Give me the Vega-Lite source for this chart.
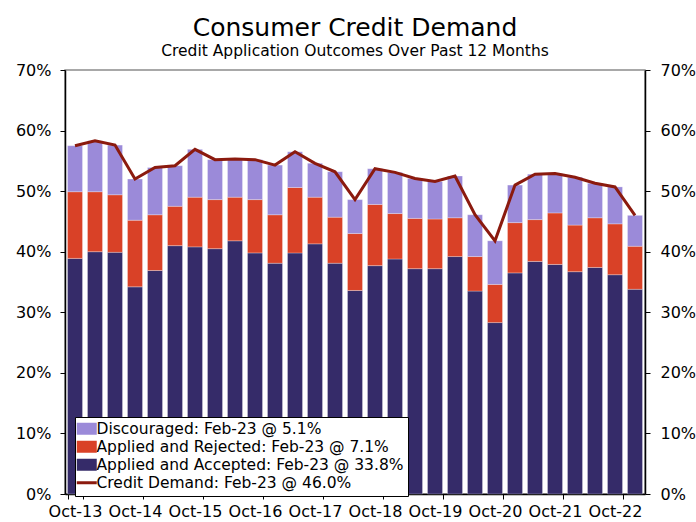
{
  "$schema": "https://vega.github.io/schema/vega-lite/v6.json",
  "autosize": {"type": "none"},
  "width": 580,
  "height": 424,
  "padding": {"left": 65, "top": 70, "right": 51, "bottom": 28},
  "background": "white",
  "config": {
    "font": "DejaVu Sans",
    "view": {"stroke": "#8c8c8c", "strokeWidth": 1.5},
    "axis": {"labelFont": "DejaVu Sans", "labelFontSize": 16, "labelColor": "black", "domainColor": "black", "tickColor": "black", "grid": false, "title": null}
  },
  "title": {
    "text": "Consumer Credit Demand",
    "subtitle": "Credit Application Outcomes Over Past 12 Months",
    "fontSize": 25,
    "fontWeight": "normal",
    "font": "DejaVu Sans",
    "color": "black",
    "subtitleFont": "DejaVu Sans",
    "subtitleFontSize": 15.5,
    "subtitleColor": "black",
    "subtitlePadding": 3,
    "anchor": "middle",
    "offset": 3
  },
  "data": {
    "values": [
      {"period":"Oct-13","series":"Applied and Accepted","value":38.9},{"period":"Oct-13","series":"Applied and Rejected","value":11.0},{"period":"Oct-13","series":"Discouraged","value":7.6},{"period":"Oct-13","series":"Credit Demand","value":57.5},
      {"period":"Feb-14","series":"Applied and Accepted","value":40.0},{"period":"Feb-14","series":"Applied and Rejected","value":9.9},{"period":"Feb-14","series":"Discouraged","value":8.4},{"period":"Feb-14","series":"Credit Demand","value":58.3},
      {"period":"Jun-14","series":"Applied and Accepted","value":39.9},{"period":"Jun-14","series":"Applied and Rejected","value":9.5},{"period":"Jun-14","series":"Discouraged","value":8.2},{"period":"Jun-14","series":"Credit Demand","value":57.6},
      {"period":"Oct-14","series":"Applied and Accepted","value":34.2},{"period":"Oct-14","series":"Applied and Rejected","value":11.0},{"period":"Oct-14","series":"Discouraged","value":6.8},{"period":"Oct-14","series":"Credit Demand","value":52.0},
      {"period":"Feb-15","series":"Applied and Accepted","value":36.9},{"period":"Feb-15","series":"Applied and Rejected","value":9.2},{"period":"Feb-15","series":"Discouraged","value":7.8},{"period":"Feb-15","series":"Credit Demand","value":53.9},
      {"period":"Jun-15","series":"Applied and Accepted","value":41.0},{"period":"Jun-15","series":"Applied and Rejected","value":6.5},{"period":"Jun-15","series":"Discouraged","value":6.7},{"period":"Jun-15","series":"Credit Demand","value":54.2},
      {"period":"Oct-15","series":"Applied and Accepted","value":40.8},{"period":"Oct-15","series":"Applied and Rejected","value":8.2},{"period":"Oct-15","series":"Discouraged","value":7.9},{"period":"Oct-15","series":"Credit Demand","value":56.9},
      {"period":"Feb-16","series":"Applied and Accepted","value":40.5},{"period":"Feb-16","series":"Applied and Rejected","value":8.1},{"period":"Feb-16","series":"Discouraged","value":6.6},{"period":"Feb-16","series":"Credit Demand","value":55.2},
      {"period":"Jun-16","series":"Applied and Accepted","value":41.8},{"period":"Jun-16","series":"Applied and Rejected","value":7.2},{"period":"Jun-16","series":"Discouraged","value":6.3},{"period":"Jun-16","series":"Credit Demand","value":55.3},
      {"period":"Oct-16","series":"Applied and Accepted","value":39.8},{"period":"Oct-16","series":"Applied and Rejected","value":8.8},{"period":"Oct-16","series":"Discouraged","value":6.6},{"period":"Oct-16","series":"Credit Demand","value":55.2},
      {"period":"Feb-17","series":"Applied and Accepted","value":38.1},{"period":"Feb-17","series":"Applied and Rejected","value":8.0},{"period":"Feb-17","series":"Discouraged","value":8.2},{"period":"Feb-17","series":"Credit Demand","value":54.3},
      {"period":"Jun-17","series":"Applied and Accepted","value":39.8},{"period":"Jun-17","series":"Applied and Rejected","value":10.8},{"period":"Jun-17","series":"Discouraged","value":5.9},{"period":"Jun-17","series":"Credit Demand","value":56.5},
      {"period":"Oct-17","series":"Applied and Accepted","value":41.3},{"period":"Oct-17","series":"Applied and Rejected","value":7.7},{"period":"Oct-17","series":"Discouraged","value":5.6},{"period":"Oct-17","series":"Credit Demand","value":54.6},
      {"period":"Feb-18","series":"Applied and Accepted","value":38.1},{"period":"Feb-18","series":"Applied and Rejected","value":7.6},{"period":"Feb-18","series":"Discouraged","value":7.5},{"period":"Feb-18","series":"Credit Demand","value":53.2},
      {"period":"Jun-18","series":"Applied and Accepted","value":33.6},{"period":"Jun-18","series":"Applied and Rejected","value":9.4},{"period":"Jun-18","series":"Discouraged","value":5.6},{"period":"Jun-18","series":"Credit Demand","value":48.6},
      {"period":"Oct-18","series":"Applied and Accepted","value":37.7},{"period":"Oct-18","series":"Applied and Rejected","value":10.1},{"period":"Oct-18","series":"Discouraged","value":5.9},{"period":"Oct-18","series":"Credit Demand","value":53.7},
      {"period":"Feb-19","series":"Applied and Accepted","value":38.8},{"period":"Feb-19","series":"Applied and Rejected","value":7.5},{"period":"Feb-19","series":"Discouraged","value":6.8},{"period":"Feb-19","series":"Credit Demand","value":53.1},
      {"period":"Jun-19","series":"Applied and Accepted","value":37.2},{"period":"Jun-19","series":"Applied and Rejected","value":8.3},{"period":"Jun-19","series":"Discouraged","value":6.6},{"period":"Jun-19","series":"Credit Demand","value":52.1},
      {"period":"Oct-19","series":"Applied and Accepted","value":37.2},{"period":"Oct-19","series":"Applied and Rejected","value":8.2},{"period":"Oct-19","series":"Discouraged","value":6.2},{"period":"Oct-19","series":"Credit Demand","value":51.6},
      {"period":"Feb-20","series":"Applied and Accepted","value":39.2},{"period":"Feb-20","series":"Applied and Rejected","value":6.4},{"period":"Feb-20","series":"Discouraged","value":6.9},{"period":"Feb-20","series":"Credit Demand","value":52.5},
      {"period":"Jun-20","series":"Applied and Accepted","value":33.5},{"period":"Jun-20","series":"Applied and Rejected","value":5.7},{"period":"Jun-20","series":"Discouraged","value":6.9},{"period":"Jun-20","series":"Credit Demand","value":46.1},
      {"period":"Oct-20","series":"Applied and Accepted","value":28.3},{"period":"Oct-20","series":"Applied and Rejected","value":6.3},{"period":"Oct-20","series":"Discouraged","value":7.2},{"period":"Oct-20","series":"Credit Demand","value":41.8},
      {"period":"Feb-21","series":"Applied and Accepted","value":36.5},{"period":"Feb-21","series":"Applied and Rejected","value":8.3},{"period":"Feb-21","series":"Discouraged","value":6.2},{"period":"Feb-21","series":"Credit Demand","value":51.0},
      {"period":"Jun-21","series":"Applied and Accepted","value":38.4},{"period":"Jun-21","series":"Applied and Rejected","value":6.9},{"period":"Jun-21","series":"Discouraged","value":7.5},{"period":"Jun-21","series":"Credit Demand","value":52.8},
      {"period":"Oct-21","series":"Applied and Accepted","value":37.9},{"period":"Oct-21","series":"Applied and Rejected","value":8.5},{"period":"Oct-21","series":"Discouraged","value":6.5},{"period":"Oct-21","series":"Credit Demand","value":52.9},
      {"period":"Feb-22","series":"Applied and Accepted","value":36.7},{"period":"Feb-22","series":"Applied and Rejected","value":7.7},{"period":"Feb-22","series":"Discouraged","value":7.9},{"period":"Feb-22","series":"Credit Demand","value":52.3},
      {"period":"Jun-22","series":"Applied and Accepted","value":37.4},{"period":"Jun-22","series":"Applied and Rejected","value":8.2},{"period":"Jun-22","series":"Discouraged","value":5.7},{"period":"Jun-22","series":"Credit Demand","value":51.3},
      {"period":"Oct-22","series":"Applied and Accepted","value":36.2},{"period":"Oct-22","series":"Applied and Rejected","value":8.4},{"period":"Oct-22","series":"Discouraged","value":6.1},{"period":"Oct-22","series":"Credit Demand","value":50.7},
      {"period":"Feb-23","series":"Applied and Accepted","value":33.8},{"period":"Feb-23","series":"Applied and Rejected","value":7.1},{"period":"Feb-23","series":"Discouraged","value":5.1},{"period":"Feb-23","series":"Credit Demand","value":46.0}
    ]
  },
  "encoding": {
    "x": {
      "field": "period",
      "type": "ordinal",
      "sort": null,
      "scale": {"paddingInner": 0.25, "paddingOuter": 0.125},
      "axis": {
        "values": ["Oct-13","Oct-14","Oct-15","Oct-16","Oct-17","Oct-18","Oct-19","Oct-20","Oct-21","Oct-22"],
        "labelAngle": 0,
        "tickBand": "extent",
        "tickSize": 5,
        "labelPadding": 4,
        "domainWidth": 1.5
      }
    },
    "color": {
      "field": "series",
      "type": "nominal",
      "scale": {
        "domain": ["Discouraged","Applied and Rejected","Applied and Accepted","Credit Demand"],
        "range": ["#9b8ad9","#d94127","#352b69","#8b1a0e"]
      },
      "legend": {
        "title": null,
        "orient": "none",
        "legendX": 10,
        "legendY": 347,
        "fillColor": "white",
        "strokeColor": "black",
        "padding": 4,
        "labelFont": "DejaVu Sans",
        "labelFontSize": 15.5,
        "labelColor": "black",
        "labelLimit": 500,
        "labelOffset": 2,
        "rowPadding": 1,
        "symbolSize": 400,
        "labelExpr": "datum.label === 'Discouraged' ? 'Discouraged: Feb-23 @ 5.1%' : datum.label === 'Applied and Rejected' ? 'Applied and Rejected: Feb-23 @ 7.1%' : datum.label === 'Applied and Accepted' ? 'Applied and Accepted: Feb-23 @ 33.8%' : 'Credit Demand: Feb-23 @ 46.0%'",
        "encode": {
          "symbols": {
            "update": {
              "shape": {"signal": "datum.value === 'Credit Demand' ? 'M-1,0H1' : 'M-1,-0.6H1V0.6H-1Z'"},
              "fill": {"signal": "datum.value === 'Credit Demand' ? 'transparent' : scale('color', datum.value)"},
              "stroke": {"signal": "datum.value === 'Credit Demand' ? scale('color', datum.value) : 'transparent'"},
              "strokeWidth": {"signal": "datum.value === 'Credit Demand' ? 3 : 0"},
              "opacity": {"value": 1}
            }
          }
        }
      }
    }
  },
  "layer": [
    {
      "transform": [{"filter": "datum.series !== 'Credit Demand'"}],
      "mark": {"type": "bar", "stroke": "white", "strokeOpacity": 0.35, "strokeWidth": 0.8},
      "encoding": {
        "y": {
          "field": "value",
          "type": "quantitative",
          "stack": "zero",
          "scale": {"domain": [0, 70], "nice": false},
          "axis": {"orient": "left", "values": [0,10,20,30,40,50,60,70], "labelExpr": "datum.value + '%'", "tickSize": 5, "labelPadding": 9, "domainWidth": 1.5}
        },
        "order": {"field": "series", "sort": "ascending"}
      }
    },
    {
      "transform": [{"filter": "datum.series === 'Credit Demand'"}],
      "mark": {"type": "line", "strokeWidth": 3},
      "encoding": {
        "y": {
          "field": "value",
          "type": "quantitative",
          "scale": {"domain": [0, 70], "nice": false},
          "axis": {"orient": "right", "values": [0,10,20,30,40,50,60,70], "labelExpr": "datum.value + '%'", "tickSize": 5, "labelPadding": 10, "domainWidth": 1.5}
        }
      }
    }
  ],
  "resolve": {"axis": {"y": "independent"}}
}
